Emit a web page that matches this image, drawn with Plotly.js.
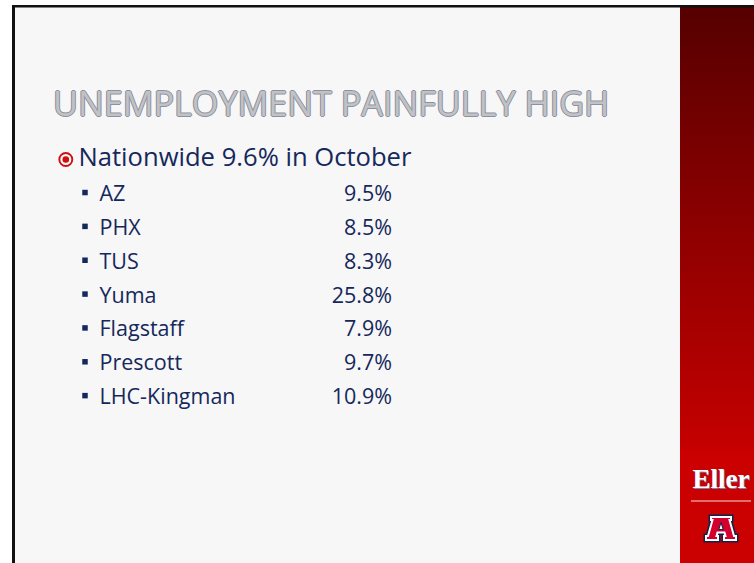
<!DOCTYPE html>
<html>
<head>
<meta charset="utf-8">
<script src="https://cdn.plot.ly/plotly-3.0.1.min.js"></script>
<style>html,body{margin:0;padding:0;background:#fff;}#chart{width:754px;height:563px;}</style>
</head>
<body>
<div id="chart"></div>
<script>
// ---- data ----
const slideTitle = "UNEMPLOYMENT PAINFULLY HIGH";
const headline = "Nationwide 9.6% in October";
const areas = ["AZ", "PHX", "TUS", "Yuma", "Flagstaff", "Prescott", "LHC-Kingman"];
const rates = [9.5, 8.5, 8.3, 25.8, 7.9, 9.7, 10.9];
const rateLabels = rates.map(v => v.toFixed(1) + "%");
const brand = "Eller";

// ---- layout helpers ----
const W = 754, H = 563;
const itemSize = 21.5, headSize = 25.6, titleSize = 34.2, brandSize = 27;
const ROW0 = 201 - 0.25 * itemSize, ROWH = 33.85;   // text row centres (pixels)
const rowOf = p => (p - ROW0) / ROWH;
const atBaseline = (b, fs) => rowOf(b - 0.25 * fs);  // plotly 'middle' text: baseline = y + 0.25em
const X = p => p / W, Y = p => 1 - p / H;
const navy = "#15285c";
const idx = areas.map((_, i) => i);
const bulletLift = -3.1 / ROWH;

const bodyFont = "Open Sans, Noto Sans, sans-serif";

const traces = [
  { // square bullets
    x: areas.map(() => 85), y: idx.map(i => i + bulletLift), mode: "markers", hoverinfo: "skip",
    marker: { symbol: "square", size: 5.5, color: navy }
  },
  { // area names
    x: areas.map(() => 99.5), y: idx, text: areas, mode: "text", hoverinfo: "skip",
    textposition: "middle right", cliponaxis: false,
    textfont: { family: bodyFont, size: itemSize, color: navy }
  },
  { // rates
    x: areas.map(() => 392), y: idx, text: rateLabels, mode: "text", hoverinfo: "skip",
    textposition: "middle left", cliponaxis: false,
    textfont: { family: bodyFont, size: itemSize, color: navy }
  },
  { // headline
    x: [78.5], y: [atBaseline(166.3, headSize)], text: [headline], mode: "text", hoverinfo: "skip",
    textposition: "middle right", cliponaxis: false,
    textfont: { family: bodyFont, size: headSize, color: navy }
  },
  { // slide title
    x: [53], y: [atBaseline(116, titleSize)], text: [slideTitle], mode: "text", hoverinfo: "skip",
    textposition: "middle right", cliponaxis: false,
    textfont: {
      family: bodyFont, size: titleSize, color: "#c2c2c2",
      shadow: "1px 0 0 #8a91a5, -1px 0 0 #8a91a5, 0 1px 0 #8a91a5, 0 -1px 0 #8a91a5"
    }
  },
  { // brand
    x: [692.5], y: [atBaseline(488.3, brandSize)], text: [brand], mode: "text", hoverinfo: "skip",
    textposition: "middle right", cliponaxis: false,
    textfont: {
      family: "Liberation Serif, DejaVu Serif, serif", size: brandSize, color: "#ffffff",
      weight: 700, shadow: "1px 1px 0 #7d7fb0"
    }
  }
];

// ---- shapes ----
const shapes = [];
const rect = (x0, y0, x1, y1, color, layer) => ({
  type: "rect", xref: "paper", yref: "paper", x0: X(x0), x1: X(x1), y0: Y(y1), y1: Y(y0),
  fillcolor: color, line: { width: 0 }, layer: layer || "below"
});
// slide background
shapes.push(rect(15, 7, 680, H, "#f7f7f7"));
// red side bar with vertical gradient
const g0 = 7, g1 = 450, step = 3;
for (let y = g0; y < g1; y += step) {
  const t = (y - g0) / (g1 - g0);
  const r = Math.round(86 + t * (198 - 86));
  shapes.push(rect(680, y, W, Math.min(y + step + 0.5, g1 + 0.5), `rgb(${r},0,0)`));
}
shapes.push(rect(680, g1, W, H, "#cb0000"));
// borders
shapes.push(rect(12, 5, 15, H, "#111111"));
shapes.push(rect(12, 5, W, 7.5, "#111111"));
// red circle bullet
const circ = (cx, cy, r, fill, lw, lc) => ({
  type: "circle", xref: "paper", yref: "paper",
  x0: X(cx - r), x1: X(cx + r), y0: Y(cy + r), y1: Y(cy - r),
  fillcolor: fill, line: { width: lw, color: lc }, layer: "above"
});
shapes.push(circ(65.8, 159.5, 6.5, "rgba(0,0,0,0)", 1.9, "#cc1010"));
shapes.push(circ(65.8, 159.5, 3.3, "#cc1010", 0, "#cc1010"));
// white rule under brand
shapes.push(rect(691, 500.5, 751, 501.5, "#f3dede", "above"));
// block A logo
const pathOf = pts => "M " + pts.map(p => X(p[0]).toFixed(5) + "," + Y(p[1]).toFixed(5)).join(" L ") + " Z";
const aPts = [[711,517],[731,517],[731,520],[729.5,520],[734,536],[736,536],[736,540],[724,540],[724,536],
  [725.5,536],[724.5,532.5],[717.5,532.5],[716.5,536],[718,536],[718,540],[706,540],[706,536],[708,536],
  [712.5,520],[711,520]];
const cPts = [[721,522.5],[723.2,529.5],[718.8,529.5]];
shapes.push({ type: "path", xref: "paper", yref: "paper", path: pathOf(aPts), fillcolor: "#0c234b", line: { width: 5, color: "#0c234b" }, layer: "above" });
shapes.push({ type: "path", xref: "paper", yref: "paper", path: pathOf(aPts), fillcolor: "#d3002e", line: { width: 2, color: "#ffffff" }, layer: "above" });
shapes.push({ type: "path", xref: "paper", yref: "paper", path: pathOf(cPts), fillcolor: "#ffffff", line: { width: 1, color: "#0c234b" }, layer: "above" });

const layout = {
  width: W, height: H,
  margin: { l: 0, r: 0, t: 0, b: 0, pad: 0 },
  paper_bgcolor: "#ffffff", plot_bgcolor: "rgba(0,0,0,0)",
  showlegend: false,
  xaxis: { range: [0, W], visible: false, fixedrange: true, domain: [0, 1] },
  yaxis: { range: [rowOf(H), rowOf(0)], visible: false, fixedrange: true, domain: [0, 1] },
  shapes: shapes
};

Plotly.newPlot("chart", traces, layout, { staticPlot: true, displayModeBar: false });
</script>
</body>
</html>
